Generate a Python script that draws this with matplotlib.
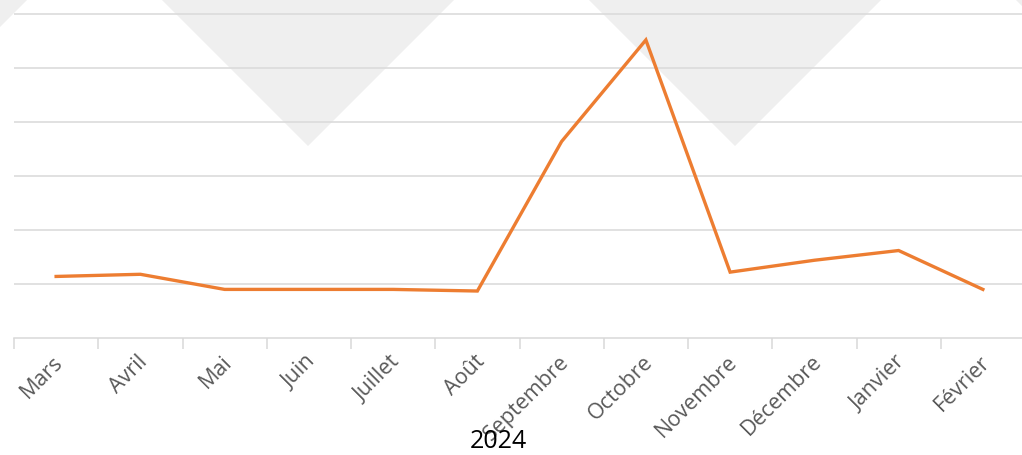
import matplotlib
matplotlib.use("Agg")
import matplotlib.pyplot as plt
from matplotlib.patches import Polygon
from matplotlib.transforms import ScaledTranslation

# data
months = ["Mars", "Avril", "Mai", "Juin", "Juillet", "Août", "Septembre",
          "Octobre", "Novembre", "Décembre", "Janvier", "Février"]
values = [5.7, 5.9, 4.5, 4.5, 4.5, 4.35, 18.2, 27.6, 6.1, 7.2, 8.1, 4.5]
year_label = "2024"

plt.rcParams['font.family'] = ['Open Sans', 'DejaVu Sans']

W, H = 1022, 455
fig = plt.figure(figsize=(W / 100, H / 100), dpi=100)

# background watermark: inverted light grey triangles
for cx in [-119, 308, 735, 1162]:
    tri = Polygon([(cx - 146, H), (cx + 146, H), (cx, H - 146)], closed=True,
                  transform=None, facecolor="#efefef", edgecolor="none", zorder=-5)
    fig.patches.append(tri)

ax = fig.add_axes([14 / W, 117 / H, (1025 - 14) / W, 338 / H])
ax.patch.set_alpha(0)

x = range(len(months))
ax.plot(x, values, color="#ED7D31", linewidth=2.4, solid_joinstyle="miter", zorder=3)

ax.set_xlim(-0.5, len(months) - 0.5)
ax.set_ylim(0, 31.3)
ax.set_yticks([5, 10, 15, 20, 25, 30])
ax.yaxis.grid(True, color="#d9d9d9", linewidth=1.1)
ax.set_axisbelow(True)
ax.tick_params(axis="y", left=False, labelleft=False)

ax.set_xticks([i - 0.5 for i in x], minor=False)
ax.set_xticklabels([])
ax.set_xticks(list(x), minor=True)
ax.set_xticklabels(months, minor=True, rotation=45, ha="right", va="center",
                   rotation_mode="anchor", fontsize=15.5, color="#595959")
ax.tick_params(axis="x", which="major", length=8, width=1.1, color="#d9d9d9")
ax.tick_params(axis="x", which="minor", length=0, pad=15)
for lbl in ax.get_xticklabels(minor=True):
    lbl.set_transform(lbl.get_transform() + ScaledTranslation(4 / 100, 0, fig.dpi_scale_trans))

for s in ["top", "right", "left"]:
    ax.spines[s].set_visible(False)
ax.spines["bottom"].set_color("#d9d9d9")
ax.spines["bottom"].set_linewidth(1.1)

fig.text(498 / W, 1 - 441 / H, year_label, ha="center", va="center",
         fontsize=18, color="black")

fig.savefig("out.png", dpi=100)
